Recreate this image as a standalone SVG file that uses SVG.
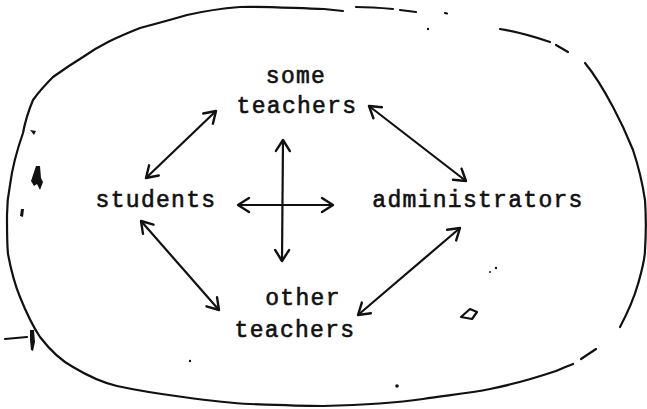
<svg xmlns="http://www.w3.org/2000/svg" width="647" height="409" viewBox="0 0 647 409">
  <style>
    .lbl { font-family: "Liberation Mono", "DejaVu Sans Mono", monospace; font-size: 23px; letter-spacing: 1.3px; fill: #111; stroke: #111; stroke-width: 0.6; text-anchor: middle; }
    .edge { stroke: #111; stroke-width: 2.2; fill: none; marker-start: url(#ah); marker-end: url(#ah); }
    .ring { stroke: #111; stroke-width: 2.2; fill: none; stroke-linecap: round; stroke-linejoin: round; }
    .spot { fill: #111; }
  </style>
  <defs>
    <marker id="ah" markerUnits="userSpaceOnUse" markerWidth="18" markerHeight="18" viewBox="-13 -9 15 18" refX="0" refY="0" orient="auto-start-reverse">
      <path d="M -11,-7 L 0,0 L -11,7" fill="none" stroke="#111" stroke-width="2.4" stroke-linecap="round" stroke-linejoin="round"/>
    </marker>
  </defs>
  <rect width="647" height="409" fill="#fff"/>

  <g id="boundary">
    <path class="ring" d="M 343,11 L 324,9 C 290,8 260,6 240,7 C 215,9 200,12 187,15 C 170,20 155,24 140,28 C 115,38 100,45 83,57 C 70,65 60,72 53,77 C 45,85 38,93 33,100 C 28,112 25,122 23,133 C 17,150 12,170 10,185 C 8,195 7,204 7,215 C 7,230 7,245 8,254 C 11,270 15,285 20,297 C 26,312 32,325 40,337 C 50,350 60,360 73,367 C 88,376 100,382 117,386 C 140,391 160,394 183,397 C 205,400 228,403 250,404 C 275,405 300,406 323,406 C 360,405 395,403 423,399 C 450,395 470,393 490,389 C 515,384 535,378 556,371 C 562,368 568,366 573,364"/>
    <path class="ring" d="M 581,359 L 596,349"/>
    <path class="ring" d="M 620,327 C 628,312 634,298 638,284 C 642,270 645,260 645,250 C 646,235 646,215 645,200 C 642,180 638,165 633,150 C 627,135 620,120 613,107 C 605,92 595,75 585,63"/>
    <path class="ring" d="M 568,52 L 556,45"/>
    <path class="ring" d="M 550,42 C 535,37 518,32 500,29"/>
    <path class="ring" d="M 356,7 C 370,7 382,8 393,9"/>
    <path class="ring" d="M 400,10 L 416,12"/>
    <path class="ring" d="M 445,13 L 447,13.5"/>
    <path class="ring" d="M 5,339 L 27,337"/>
    <path class="spot" d="M 30,330 L 34,330 L 35,342 L 33,351 L 31,350 L 30,340 Z"/>
    <path class="spot" d="M 36,166 L 40,166 L 41,178 L 43,182 L 40,190 L 37,184 L 34,186 L 31,181 Z"/>
    <path class="spot" d="M 21,209 L 24,209 L 23,217 L 20,216 Z"/>
    <path class="spot" d="M 30,130 L 36,131 L 34,135 Z"/>
    <path class="ring" d="M 461,317 L 470,309 L 477,312 L 472,319 Z" stroke-width="1.8"/>
    <circle class="spot" cx="397" cy="386" r="1.8"/>
    <circle class="spot" cx="190" cy="361" r="1.2"/>
    <circle class="spot" cx="496" cy="268" r="1.2"/>
    <circle class="spot" cx="490" cy="272" r="1"/>
    <circle class="spot" cx="428" cy="29" r="1.2"/>
  </g>

  <g id="node-some-teachers">
    <text class="lbl" x="296" y="83">some</text>
    <text class="lbl" x="297" y="113">teachers</text>
  </g>
  <g id="node-students">
    <text class="lbl" x="156" y="207">students</text>
  </g>
  <g id="node-administrators">
    <text class="lbl" x="478" y="207">administrators</text>
  </g>
  <g id="node-other-teachers">
    <text class="lbl" x="303" y="305">other</text>
    <text class="lbl" x="295" y="337">teachers</text>
  </g>

  <g id="connectors">
    <line class="edge" x1="146" y1="178" x2="216" y2="111"/>
    <line class="edge" x1="369" y1="106" x2="466" y2="181"/>
    <line class="edge" x1="141" y1="221" x2="219" y2="310"/>
    <line class="edge" x1="460" y1="228" x2="358" y2="315"/>
    <line class="edge" x1="283" y1="140" x2="282" y2="261"/>
    <line class="edge" x1="238" y1="205" x2="333" y2="205"/>
  </g>
</svg>
